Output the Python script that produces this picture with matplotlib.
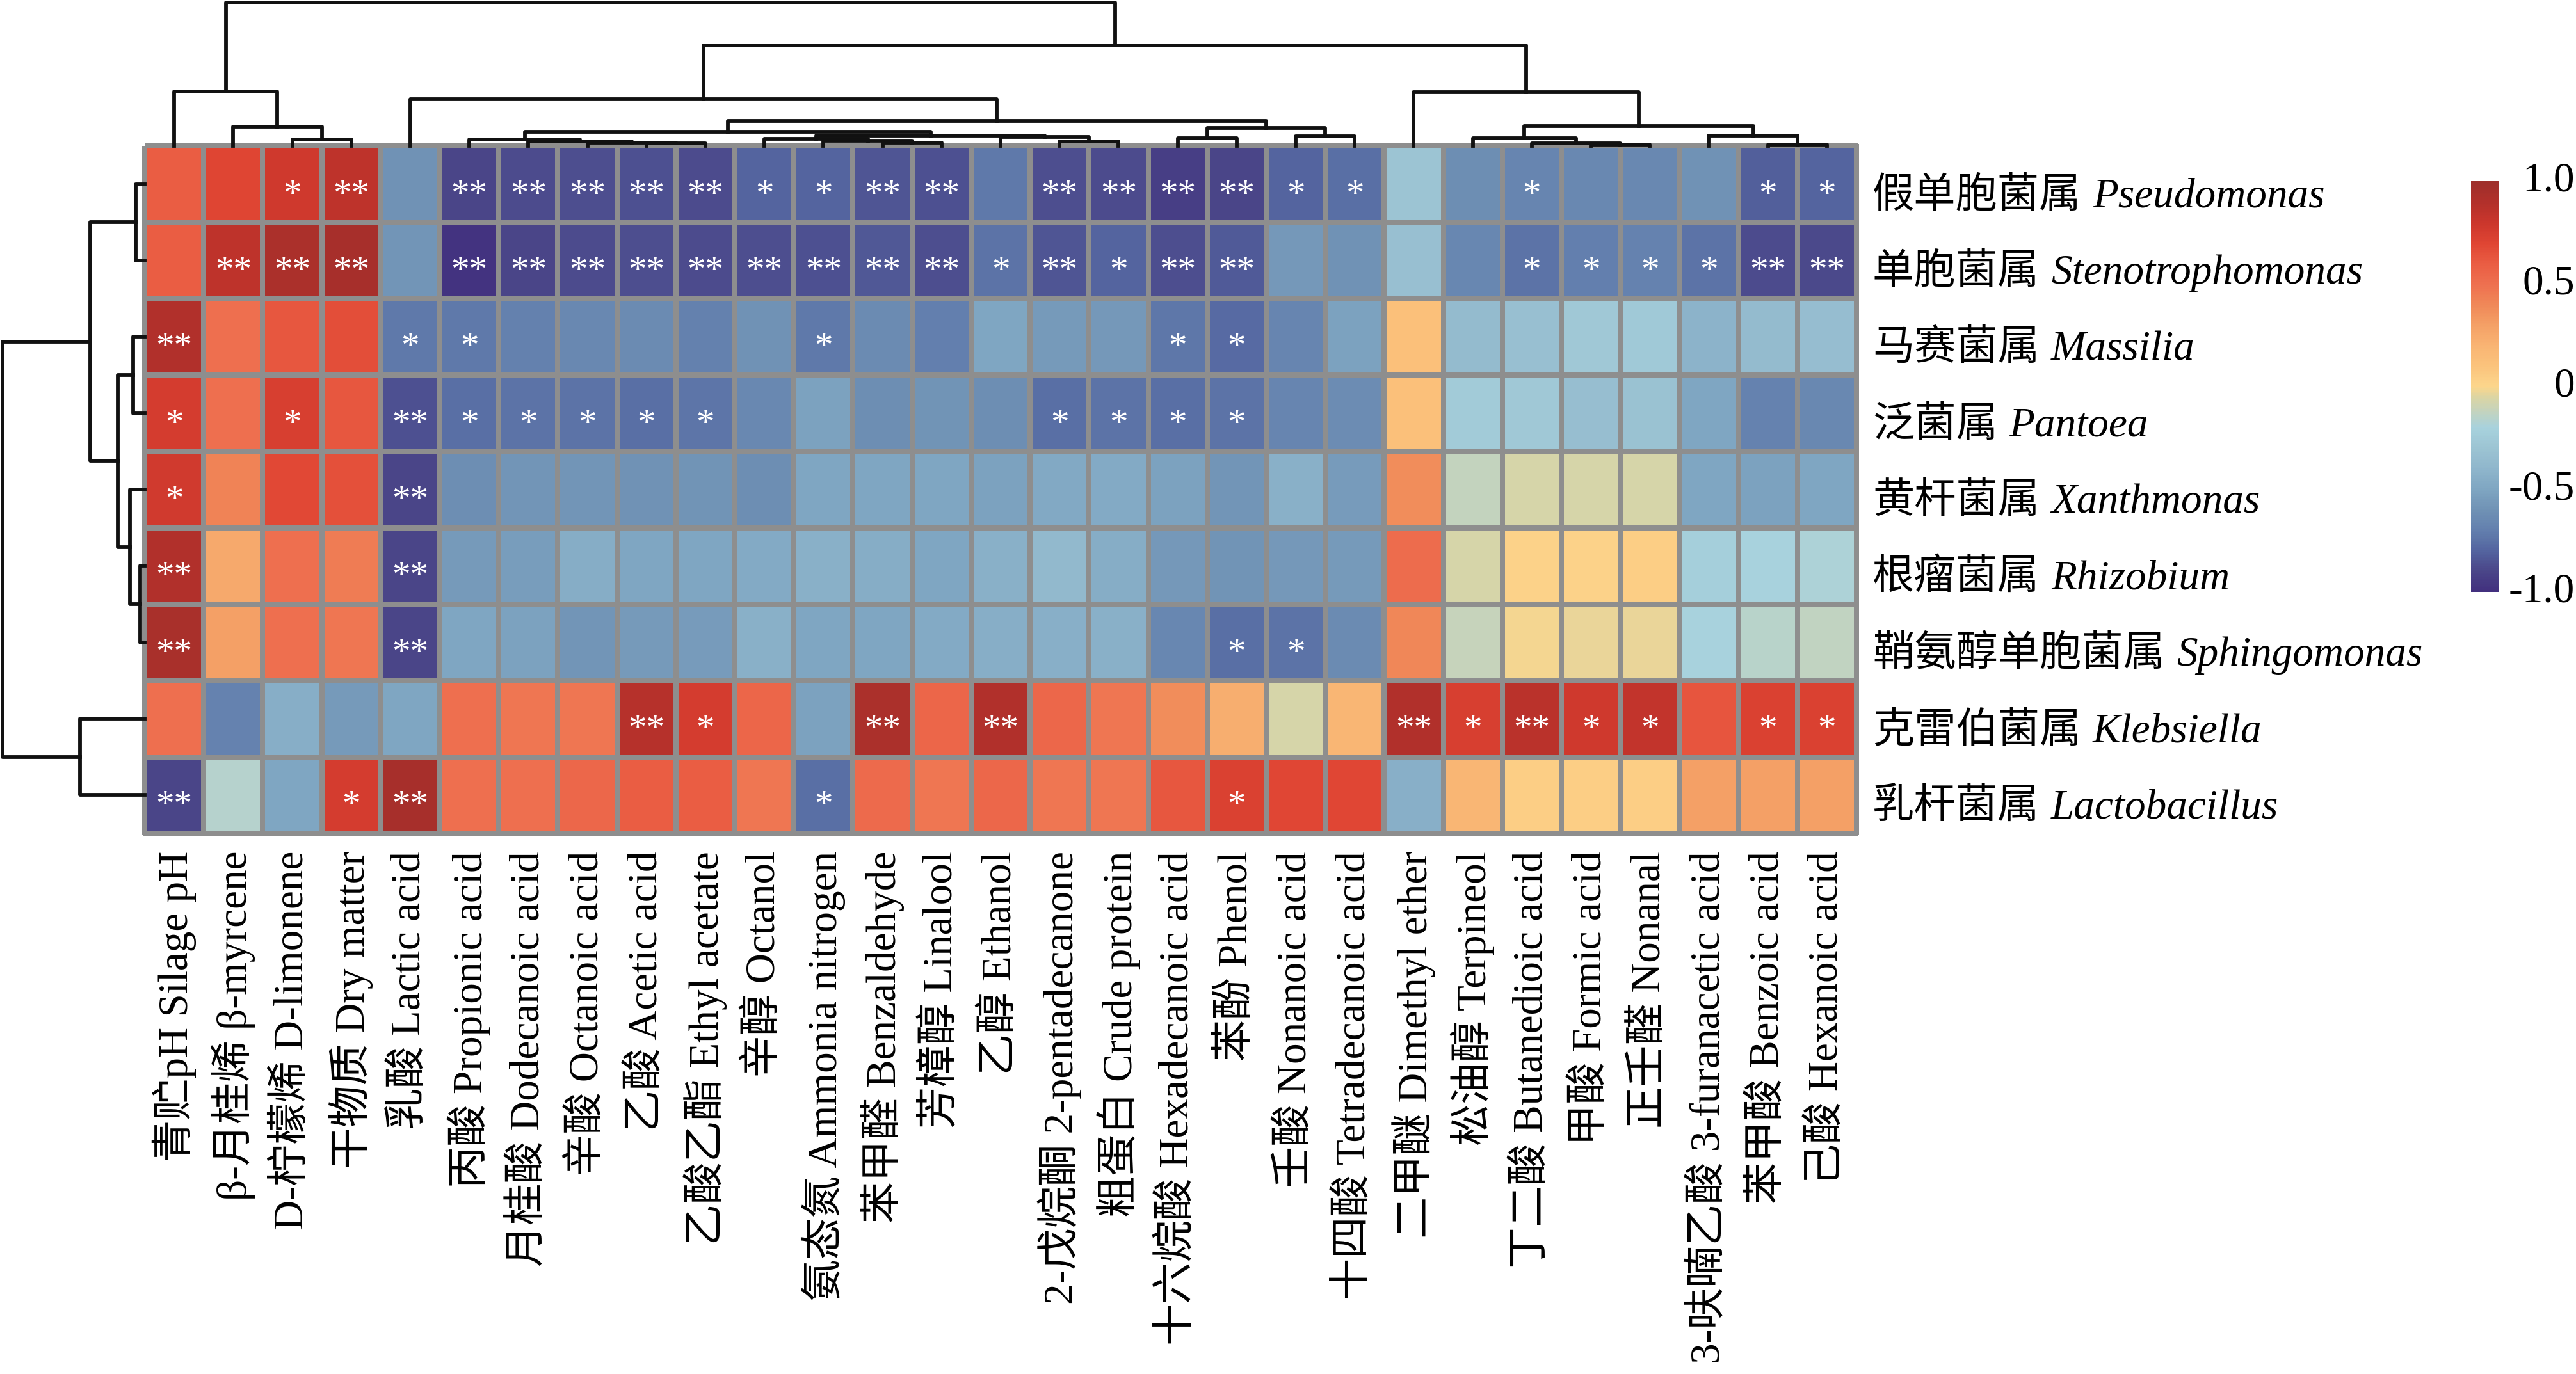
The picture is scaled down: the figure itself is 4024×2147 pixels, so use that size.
import numpy as np
import matplotlib
matplotlib.use("Agg")
import matplotlib.pyplot as plt
from matplotlib.colors import LinearSegmentedColormap, Normalize
from matplotlib.cm import ScalarMappable
from matplotlib import transforms

# ---------------- data ----------------
genus_cn = ["假单胞菌属", "单胞菌属", "马赛菌属", "泛菌属", "黄杆菌属",
            "根瘤菌属", "鞘氨醇单胞菌属", "克雷伯菌属", "乳杆菌属"]
genus_la = ["Pseudomonas", "Stenotrophomonas", "Massilia", "Pantoea", "Xanthmonas",
            "Rhizobium", "Sphingomonas", "Klebsiella", "Lactobacillus"]

variables = ["青贮pH Silage pH", "β-月桂烯 β-myrcene", "D-柠檬烯 D-limonene", "干物质 Dry matter",
             "乳酸 Lactic acid", "丙酸 Propionic acid", "月桂酸 Dodecanoic acid", "辛酸 Octanoic acid",
             "乙酸 Acetic acid", "乙酸乙酯 Ethyl acetate", "辛醇 Octanol", "氨态氮 Ammonia nitrogen",
             "苯甲醛 Benzaldehyde", "芳樟醇 Linalool", "乙醇 Ethanol", "2-戊烷酮 2-pentadecanone",
             "粗蛋白 Crude protein", "十六烷酸 Hexadecanoic acid", "苯酚 Phenol", "壬酸 Nonanoic acid",
             "十四酸 Tetradecanoic acid", "二甲醚 Dimethyl ether", "松油醇 Terpineol", "丁二酸 Butanedioic acid",
             "甲酸 Formic acid", "正壬醛 Nonanal", "3-呋喃乙酸 3-furanacetic acid", "苯甲酸 Benzoic acid",
             "己酸 Hexanoic acid"]

pseudomonas = [0.60, 0.70, 0.78, 0.85, -0.60, -0.90, -0.88, -0.87, -0.86, -0.88, -0.80, -0.80, -0.85, -0.86,
               -0.72, -0.87, -0.88, -0.93, -0.90, -0.80, -0.76, -0.30, -0.62, -0.67, -0.65, -0.65, -0.60, -0.82, -0.80]
stenotrophomonas = [0.60, 0.85, 0.93, 0.95, -0.58, -0.98, -0.90, -0.88, -0.87, -0.88, -0.87, -0.86, -0.84, -0.87,
                    -0.75, -0.85, -0.80, -0.87, -0.83, -0.57, -0.60, -0.33, -0.66, -0.75, -0.70, -0.68, -0.75, -0.88, -0.89]
massilia = [0.90, 0.50, 0.62, 0.66, -0.72, -0.72, -0.69, -0.65, -0.64, -0.69, -0.60, -0.72, -0.64, -0.70,
            -0.50, -0.56, -0.57, -0.73, -0.78, -0.67, -0.52, 0.12, -0.36, -0.33, -0.27, -0.26, -0.42, -0.36, -0.35]
pantoea = [0.75, 0.50, 0.74, 0.62, -0.86, -0.76, -0.75, -0.75, -0.76, -0.74, -0.65, -0.52, -0.62, -0.59,
           -0.62, -0.76, -0.75, -0.76, -0.75, -0.67, -0.63, 0.12, -0.25, -0.27, -0.34, -0.32, -0.50, -0.68, -0.65]
xanthmonas = [0.77, 0.42, 0.68, 0.65, -0.90, -0.62, -0.58, -0.58, -0.60, -0.59, -0.62, -0.50, -0.50, -0.50,
              -0.52, -0.48, -0.47, -0.52, -0.58, -0.43, -0.55, 0.38, -0.12, -0.07, -0.07, -0.07, -0.50, -0.52, -0.50]
rhizobium = [0.90, 0.25, 0.50, 0.45, -0.90, -0.56, -0.54, -0.46, -0.50, -0.50, -0.47, -0.43, -0.46, -0.50,
             -0.43, -0.38, -0.46, -0.57, -0.59, -0.57, -0.56, 0.52, -0.07, 0.02, 0.02, 0.04, -0.22, -0.20, -0.18]
sphingomonas = [0.94, 0.30, 0.50, 0.47, -0.90, -0.50, -0.52, -0.58, -0.56, -0.55, -0.43, -0.50, -0.50, -0.47,
                -0.45, -0.44, -0.43, -0.66, -0.76, -0.75, -0.64, 0.40, -0.11, -0.01, -0.03, -0.03, -0.20, -0.15, -0.13]
klebsiella = [0.50, -0.68, -0.45, -0.56, -0.50, 0.50, 0.47, 0.47, 0.88, 0.75, 0.55, -0.52, 0.93, 0.55,
              0.90, 0.54, 0.47, 0.38, 0.23, -0.07, 0.18, 0.90, 0.74, 0.86, 0.78, 0.83, 0.63, 0.72, 0.72]
lactobacillus = [-0.90, -0.16, -0.50, 0.75, 0.95, 0.50, 0.50, 0.54, 0.60, 0.60, 0.47, -0.76, 0.53, 0.47,
                 0.54, 0.47, 0.47, 0.62, 0.72, 0.69, 0.69, -0.44, 0.18, 0.04, 0.04, 0.04, 0.30, 0.30, 0.30]

_ = ""
sig_pseudomonas = [_, _, "*", "**", _, "**", "**", "**", "**", "**", "*", "*", "**", "**", _, "**", "**", "**",
                   "**", "*", "*", _, _, "*", _, _, _, "*", "*"]
sig_stenotrophomonas = [_, "**", "**", "**", _, "**", "**", "**", "**", "**", "**", "**", "**", "**", "*", "**",
                        "*", "**", "**", _, _, _, _, "*", "*", "*", "*", "**", "**"]
sig_massilia = ["**", _, _, _, "*", "*", _, _, _, _, _, "*", _, _, _, _, _, "*", "*", _, _, _, _, _, _, _, _, _, _]
sig_pantoea = ["*", _, "*", _, "**", "*", "*", "*", "*", "*", _, _, _, _, _, "*", "*", "*", "*", _, _, _, _, _,
               _, _, _, _, _]
sig_xanthmonas = ["*", _, _, _, "**"] + [_] * 24
sig_rhizobium = ["**", _, _, _, "**"] + [_] * 24
sig_sphingomonas = ["**", _, _, _, "**", _, _, _, _, _, _, _, _, _, _, _, _, _, "*", "*", _, _, _, _, _, _, _,
                    _, _]
sig_klebsiella = [_, _, _, _, _, _, _, _, "**", "*", _, _, "**", _, "**", _, _, _, _, _, _, "**", "*", "**", "*",
                  "*", _, "*", "*"]
sig_lactobacillus = ["**", _, _, "*", "**", _, _, _, _, _, _, "*", _, _, _, _, _, _, "*", _, _, _, _, _, _, _,
                     _, _, _]

# dendrogram merges: (left id, right id, merge height)
col_links = [(8, 9, 4), (7, 29, 5), (6, 30, 7), (5, 31, 10),
             (12, 13, 5), (11, 33, 8), (10, 34, 11),
             (15, 16, 7), (14, 36, 14), (35, 37, 16), (32, 38, 22),
             (17, 18, 12), (19, 20, 15), (40, 41, 28), (39, 42, 39),
             (4, 43, 73), (2, 3, 10), (1, 45, 30), (0, 46, 85),
             (24, 25, 1.5), (23, 48, 4), (22, 49, 12), (27, 28, 1.5), (26, 51, 16),
             (50, 52, 31), (21, 53, 84), (44, 54, 157), (47, 55, 224)]
row_links = [(0, 1, 14), (2, 3, 18), (5, 6, 7), (4, 11, 23), (10, 12, 42),
             (9, 13, 85), (7, 8, 101), (14, 15, 222)]

cbar_ticks = [1.0, 0.5, 0.0, -0.5, -1.0]
cbar_ticklabels = ["1.0", "0.5", "0", "-0.5", "-1.0"]

# ---------------- assemble ----------------
data = np.array([pseudomonas, stenotrophomonas, massilia, pantoea, xanthmonas,
                 rhizobium, sphingomonas, klebsiella, lactobacillus])
sigs = [sig_pseudomonas, sig_stenotrophomonas, sig_massilia, sig_pantoea, sig_xanthmonas,
        sig_rhizobium, sig_sphingomonas, sig_klebsiella, sig_lactobacillus]

stops = [(-1.00, "#42307e"), (-0.90, "#4a4689"), (-0.80, "#5465a0"), (-0.70, "#6380ae"),
         (-0.60, "#7092b5"), (-0.50, "#7fa6c2"), (-0.40, "#8fb6cc"), (-0.30, "#9cc4d3"),
         (-0.20, "#a8d2dd"), (-0.12, "#c4d3bd"), (-0.05, "#dcd5a3"), (0.00, "#fcd68c"),
         (0.10, "#fbc37c"), (0.20, "#f9b473"), (0.30, "#f4a066"), (0.40, "#f08858"),
         (0.50, "#ee7050"), (0.60, "#ea5d43"), (0.70, "#df4533"), (0.80, "#cb362c"),
         (0.90, "#b2302b"), (1.00, "#9e2f2b")]
cmap = LinearSegmentedColormap.from_list("rb", [((v + 1) / 2, c) for v, c in stops], N=256)
norm = Normalize(-1, 1)

W, H, DPI = 4024, 2147, 100
fig = plt.figure(figsize=(W / DPI, H / DPI), dpi=DPI)
fig.patch.set_facecolor("white")


def fx(px):
    return px / W


def fy(py):
    return 1 - py / H


HM_L, HM_R, HM_T, HM_B = 226, 2900, 228, 1302
nr, nc = data.shape
row_h = (HM_B - HM_T) / nr

ax = fig.add_axes([fx(HM_L), fy(HM_B), (HM_R - HM_L) / W, (HM_B - HM_T) / H])
mesh = ax.pcolormesh(np.arange(nc + 1), np.arange(nr + 1), data, cmap=cmap, norm=norm,
                     edgecolors="#8e8e8e", linewidth=5.5)
mesh.set_clip_on(False)
ax.set_xlim(0, nc)
ax.set_ylim(nr, 0)
ax.axis("off")

star_tr = transforms.offset_copy(ax.transData, fig=fig, y=-13, units="points")
for i in range(nr):
    for j in range(nc):
        if sigs[i][j]:
            ax.text(j + 0.5, i + 0.5, sigs[i][j], ha="center", va="center", color="white",
                    fontsize=41, family="Liberation Serif", transform=star_tr)


def dendro(links, n):
    pos = {i: i + 0.5 for i in range(n)}
    hgt = {i: 0.0 for i in range(n)}
    segs = []
    for k, (a, b, h) in enumerate(links):
        segs.append(([pos[a], pos[a], pos[b], pos[b]], [hgt[a], h, h, hgt[b]]))
        pos[n + k] = (pos[a] + pos[b]) / 2
        hgt[n + k] = h
    return segs


# top dendrogram
axt = fig.add_axes([fx(HM_L), fy(HM_T), (HM_R - HM_L) / W, HM_T / H])
for xs, ys in dendro(col_links, nc):
    axt.plot(xs, ys, color="#111111", lw=4.2, solid_capstyle="projecting", clip_on=False)
axt.set_xlim(0, nc)
axt.set_ylim(0, HM_T)
axt.axis("off")

# left dendrogram
axl = fig.add_axes([0, fy(HM_B), HM_L / W, (HM_B - HM_T) / H])
for ps, hs in dendro(row_links, nr):
    axl.plot(hs, ps, color="#111111", lw=4.2, solid_capstyle="projecting", clip_on=False)
axl.set_ylim(nr, 0)
axl.set_xlim(HM_L, 0)
axl.axis("off")

# column labels
fam = ["Liberation Serif", "Noto Sans CJK SC"]
for j, lab in enumerate(variables):
    xc = HM_L + (HM_R - HM_L) / nc * (j + 0.5)
    fig.text(fx(xc), fy(1330), lab, rotation=90, ha="center", va="top", fontsize=47, family=fam)

# row labels (Chinese upright + Latin italic)
renderer = fig.canvas.get_renderer()
for i in range(nr):
    yb = HM_T + row_h * (i + 0.5) + 36
    t1 = fig.text(fx(2925), fy(yb), genus_cn[i], ha="left", va="baseline", fontsize=47, family=fam)
    bb = t1.get_window_extent(renderer)
    fig.text(bb.x1 / W + fx(18), fy(yb), genus_la[i], ha="left", va="baseline", fontsize=47,
             family="Liberation Serif", style="italic")

# colorbar
CB_T, CB_B = 283, 925
cax = fig.add_axes([fx(3860), fy(CB_B), 43 / W, (CB_B - CB_T) / H])
cb = fig.colorbar(ScalarMappable(norm=norm, cmap=cmap), cax=cax, ticks=[])
cb.outline.set_visible(False)
btr = transforms.blended_transform_factory(fig.transFigure, cax.transData)
for v, s in zip(cbar_ticks, cbar_ticklabels):
    cax.text(fx(4022), v, s, transform=btr, ha="right", va="center", fontsize=47,
             family="Liberation Serif")

fig.savefig("out.png", dpi=DPI, facecolor="white")
